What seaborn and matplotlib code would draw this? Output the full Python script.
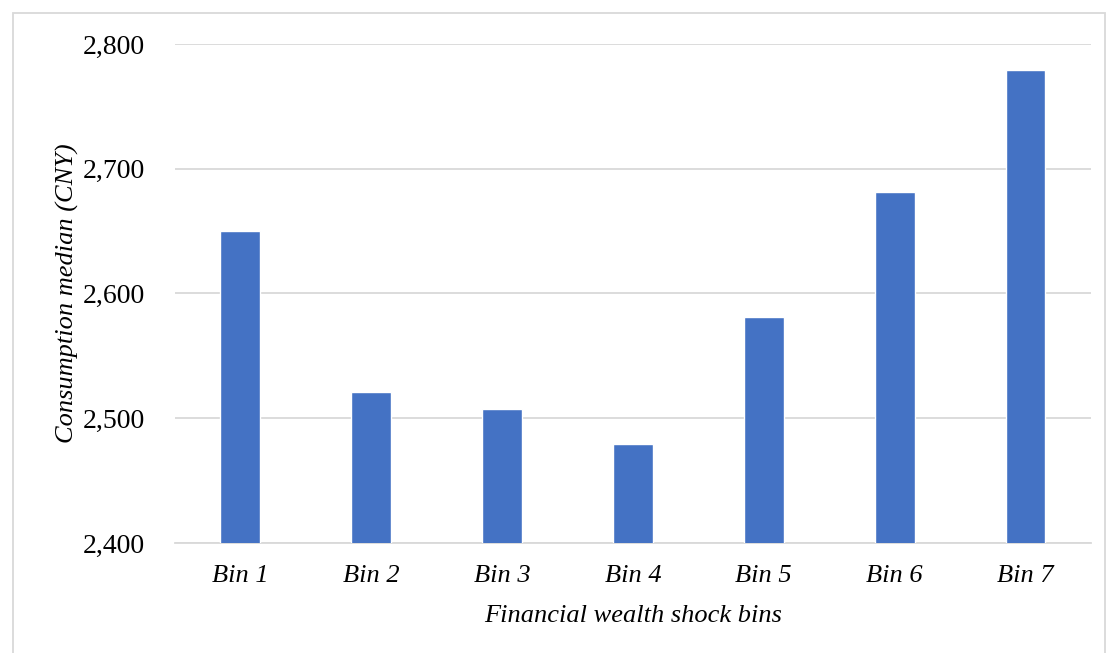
import matplotlib
matplotlib.use("Agg")
import matplotlib.pyplot as plt
import seaborn as sns
import pandas as pd
from matplotlib.patches import Rectangle

bins = ["Bin 1", "Bin 2", "Bin 3", "Bin 4", "Bin 5", "Bin 6", "Bin 7"]
medians = [2650, 2521, 2507, 2479, 2581, 2681, 2779]
yticks = [2400, 2500, 2600, 2700, 2800]

sns.set_theme(style="white")
plt.rcParams["font.family"] = ["Liberation Serif", "DejaVu Serif"]

df = pd.DataFrame({"bin": bins, "median": medians})

fig = plt.figure(figsize=(11.12, 6.53), dpi=100)
ax = fig.add_axes([0.1574, 0.1685, 0.8236, 0.7641])

# bars start at 2400 baseline
sns.barplot(data=df, x="bin", y="median", color="#4472C4", saturation=1,
            width=0.305, ax=ax, zorder=3)
ax.set_ylim(2400, 2800)
ax.set_xlim(-0.5, 6.5)
ax.set_yticks(yticks)
ax.set_yticklabels([f"{v:,}" for v in yticks], fontsize=20, color="black")
ax.set_xticks(range(len(bins)))
ax.set_xticklabels(bins, fontsize=19, style="italic", color="black")
ax.tick_params(axis="y", length=0, pad=21.5)
ax.tick_params(axis="x", length=0, pad=16)

ax.yaxis.grid(True, color="#D9D9D9", linewidth=1.3, zorder=0)
ax.set_axisbelow(True)
for side in ["top", "right", "left"]:
    ax.spines[side].set_visible(False)
ax.spines["bottom"].set_color("#D9D9D9")
ax.spines["bottom"].set_linewidth(1.3)

ax.set_ylabel("Consumption median (CNY)", fontsize=19, style="italic",
              color="black", labelpad=3)
ax.set_xlabel("Financial wealth shock bins", fontsize=19, style="italic",
              color="black", labelpad=13)

# outer chart frame
fig.patches.append(Rectangle((13 / 1112, -0.05), (1105 - 13) / 1112, 1.05 - 13 / 653,
                             transform=fig.transFigure, fill=False,
                             edgecolor="#D9D9D9", linewidth=1.3))

fig.savefig("out.png", dpi=100)
